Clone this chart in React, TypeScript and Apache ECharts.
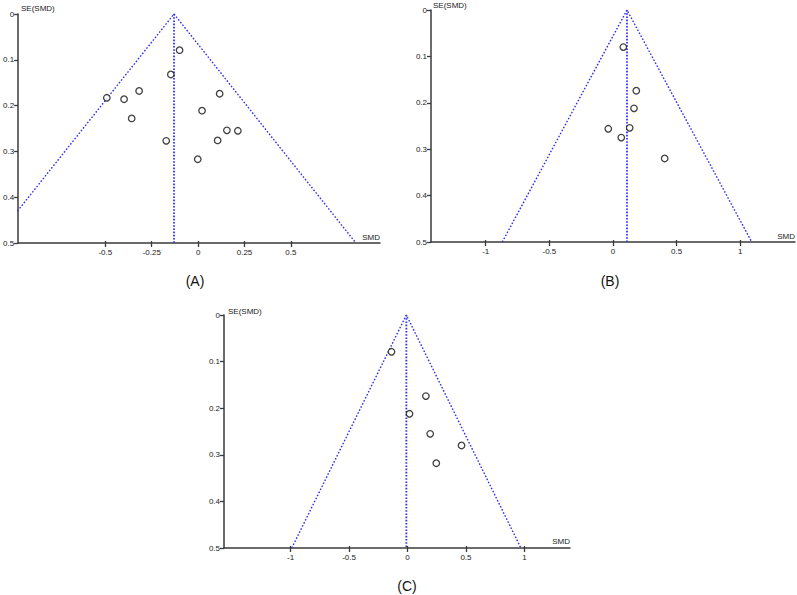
import React, { useEffect, useRef } from "react";
import * as echarts from "echarts";

// Tick values
const seTicks = [0, 0.1, 0.2, 0.3, 0.4, 0.5];
const xTicksA = [-0.5, -0.25, 0, 0.25, 0.5];
const xTicksB = [-1, -0.5, 0, 0.5, 1];
const xTicksC = [-1, -0.5, 0, 0.5, 1];

// Panel (A)
const smdA = [-0.1, -0.147, -0.318, -0.492, -0.399, -0.358, -0.172, -0.002, 0.116, 0.021, 0.155, 0.214, 0.105];
const seA = [0.079, 0.132, 0.168, 0.183, 0.186, 0.228, 0.277, 0.317, 0.174, 0.211, 0.254, 0.255, 0.276];
const pooledA = -0.13;

// Panel (B)
const smdB = [0.081, 0.183, 0.165, -0.037, 0.131, 0.065, 0.406];
const seB = [0.08, 0.174, 0.212, 0.256, 0.254, 0.275, 0.32];
const pooledB = 0.11;

// Panel (C)
const smdC = [-0.137, 0.157, 0.017, 0.194, 0.462, 0.246];
const seC = [0.079, 0.174, 0.212, 0.255, 0.28, 0.318];
const pooledC = -0.01;

const panelLabels = ["(A)", "(B)", "(C)"];
const seMax = 0.5;

const FONT = "'Liberation Sans', Arial, sans-serif";
const BLUE = "#3030f0";
const AXIS = "#3a3a3a";

export default function App() {
  const ref = useRef<HTMLDivElement>(null);

  useEffect(() => {
    document.body.style.margin = "0";
    const chart = echarts.init(ref.current!, null, { renderer: "svg" });

    const panels = [
      { smd: smdA, se: seA, pooled: pooledA, ticks: xTicksA, min: -0.97, max: 0.98, grid: { left: 17, top: 14, width: 363, height: 229 } },
      { smd: smdB, se: seB, pooled: pooledB, ticks: xTicksB, min: -1.43, max: 1.43, grid: { left: 431, top: 10, width: 364, height: 232 } },
      { smd: smdC, se: seC, pooled: pooledC, ticks: xTicksC, min: -1.57, max: 1.39, grid: { left: 224, top: 315, width: 346, height: 233 } },
    ];

    const grids: any[] = [];
    const xAxes: any[] = [];
    const yAxes: any[] = [];
    const series: any[] = [];
    const graphics: any[] = [];

    panels.forEach((p, i) => {
      grids.push({ ...p.grid, containLabel: false });
      xAxes.push({
        type: "value",
        gridIndex: i,
        min: p.min,
        max: p.max,
        axisLine: { onZero: false, lineStyle: { color: AXIS, width: 1.5 } },
        axisTick: { show: true, customValues: p.ticks, length: 4, lineStyle: { color: AXIS, width: 1.3 } },
        axisLabel: { customValues: p.ticks, fontSize: 8, color: "#222", fontFamily: FONT, margin: 5 },
        splitLine: { show: false },
      });
      yAxes.push({
        type: "value",
        gridIndex: i,
        min: 0,
        max: seMax,
        interval: 0.1,
        inverse: true,
        axisLine: { show: true, onZero: false, lineStyle: { color: AXIS, width: 1.5 } },
        axisTick: { show: true, customValues: seTicks, length: 4, lineStyle: { color: AXIS, width: 1.3 } },
        axisLabel: { customValues: seTicks, fontSize: 8, color: "#222", fontFamily: FONT, margin: 4 },
        splitLine: { show: false },
      });
      const lo = p.pooled - 1.96 * seMax;
      const hi = p.pooled + 1.96 * seMax;
      series.push({
        type: "line",
        xAxisIndex: i,
        yAxisIndex: i,
        data: [[lo, seMax], [p.pooled, 0], [hi, seMax]],
        symbol: "none",
        clip: true,
        lineStyle: { color: BLUE, width: 1.4, type: [1.6, 1.8] },
        z: 2,
      });
      series.push({
        type: "line",
        xAxisIndex: i,
        yAxisIndex: i,
        data: [[p.pooled, 0], [p.pooled, seMax]],
        symbol: "none",
        lineStyle: { color: BLUE, width: 1.8, type: [1.6, 1.6] },
        z: 2,
      });
      series.push({
        type: "scatter",
        xAxisIndex: i,
        yAxisIndex: i,
        data: p.smd.map((x, k) => [x, p.se[k]]),
        symbol: "circle",
        symbolSize: 6.5,
        itemStyle: { color: "#fff", borderColor: "#111", borderWidth: 1.3 },
        z: 3,
      });
    });

    // inner half of the x ticks (they cross the axis line in the reference)
    panels.forEach((p, i) => {
      xAxes.push({
        type: "value",
        gridIndex: i,
        min: p.min,
        max: p.max,
        position: "bottom",
        axisLine: { show: false, onZero: false },
        axisTick: { show: true, inside: true, customValues: p.ticks, length: 2, lineStyle: { color: AXIS, width: 1.3 } },
        axisLabel: { show: false },
        splitLine: { show: false },
      });
    });

    const seLabelPos = [[21, 8], [433, 5], [228, 311]];
    seLabelPos.forEach(([x, y]) => {
      graphics.push({
        type: "text",
        x,
        y,
        style: { text: "SE(SMD)", fontSize: 8, fill: "#222", fontFamily: FONT, textVerticalAlign: "middle" },
      });
    });
    const smdLabelPos = [[380, 237], [795, 236], [570, 541]];
    smdLabelPos.forEach(([x, y]) => {
      graphics.push({
        type: "text",
        x,
        y,
        style: { text: "SMD", fontSize: 8, fill: "#222", fontFamily: FONT, textAlign: "right", textVerticalAlign: "middle" },
      });
    });
    const panelPos = [[195, 281], [610, 281], [407, 586]];
    panelPos.forEach(([x, y], i) => {
      graphics.push({
        type: "text",
        x,
        y,
        style: { text: panelLabels[i], fontSize: 14, fill: "#111", fontFamily: FONT, textAlign: "center", textVerticalAlign: "middle" },
      });
    });

    chart.setOption({
      animation: false,
      backgroundColor: "#fff",
      grid: grids,
      xAxis: xAxes,
      yAxis: yAxes,
      series,
      graphic: graphics,
    });

    return () => chart.dispose();
  }, []);

  return <div ref={ref} style={{ width: 797, height: 595 }} />;
}
